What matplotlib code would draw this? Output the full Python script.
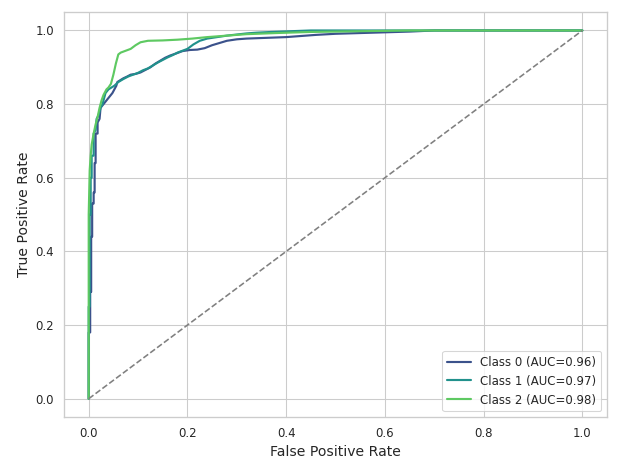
import matplotlib
matplotlib.use("Agg")
import matplotlib.pyplot as plt
import seaborn as sns

sns.set_theme(style="whitegrid", context="notebook")

labels = ["Class 0", "Class 1", "Class 2"]
auc_values = [0.96, 0.97, 0.98]

fpr_0 = [0.0, 0.0, 0.003, 0.003, 0.005, 0.005, 0.007, 0.007, 0.01, 0.01, 0.012, 0.012,
         0.014, 0.014, 0.018, 0.018, 0.022, 0.024, 0.03, 0.036, 0.042, 0.048, 0.052,
         0.056, 0.058, 0.064, 0.07, 0.078, 0.085, 0.095, 0.105, 0.115, 0.125, 0.135,
         0.145, 0.155, 0.165, 0.178, 0.19, 0.205, 0.22, 0.235, 0.25, 0.265, 0.28, 0.30,
         0.32, 0.36, 0.40, 0.43, 0.46, 0.50, 0.55, 0.60, 0.65, 0.70, 1.0]
tpr_0 = [0.0, 0.18, 0.18, 0.29, 0.29, 0.44, 0.44, 0.53, 0.53, 0.56, 0.56, 0.64,
         0.64, 0.72, 0.72, 0.75, 0.76, 0.79, 0.80, 0.81, 0.82, 0.83, 0.84,
         0.85, 0.86, 0.865, 0.87, 0.875, 0.88, 0.882, 0.886, 0.893, 0.90, 0.91,
         0.918, 0.926, 0.932, 0.938, 0.944, 0.947, 0.948, 0.952, 0.96, 0.966, 0.972, 0.976,
         0.978, 0.98, 0.982, 0.985, 0.988, 0.991, 0.993, 0.995, 0.997, 1.0, 1.0]

fpr_1 = [0.0, 0.0, 0.002, 0.002, 0.004, 0.004, 0.006, 0.006, 0.01, 0.01, 0.014, 0.016,
         0.02, 0.024, 0.028, 0.034, 0.04, 0.046, 0.052, 0.06, 0.07, 0.08, 0.09, 0.10,
         0.11, 0.12, 0.13, 0.14, 0.15, 0.16, 0.17, 0.18, 0.19, 0.20, 0.212, 0.225, 0.24,
         0.26, 0.28, 0.30, 0.32, 0.34, 0.37, 0.41, 0.45, 1.0]
tpr_1 = [0.0, 0.25, 0.25, 0.50, 0.50, 0.60, 0.60, 0.66, 0.66, 0.72, 0.73, 0.76,
         0.77, 0.79, 0.80, 0.83, 0.84, 0.845, 0.85, 0.86, 0.868, 0.875, 0.88, 0.885,
         0.892, 0.897, 0.905, 0.913, 0.92, 0.927, 0.933, 0.94, 0.945, 0.95, 0.962, 0.972, 0.978,
         0.982, 0.986, 0.989, 0.992, 0.994, 0.996, 0.998, 1.0, 1.0]

fpr_2 = [0.0, 0.0, 0.002, 0.004, 0.006, 0.01, 0.014, 0.018, 0.022, 0.026, 0.03, 0.036,
         0.04, 0.045, 0.05, 0.055, 0.06, 0.065, 0.075, 0.085, 0.095, 0.105, 0.12, 0.15,
         0.18, 0.21, 0.24, 0.28, 0.32, 0.38, 0.45, 0.55, 0.65, 1.0]
tpr_2 = [0.0, 0.50, 0.62, 0.66, 0.69, 0.72, 0.745, 0.765, 0.79, 0.81, 0.825, 0.84,
         0.845, 0.855, 0.88, 0.91, 0.935, 0.94, 0.945, 0.95, 0.96, 0.968, 0.972, 0.973,
         0.975, 0.978, 0.982, 0.986, 0.99, 0.993, 0.996, 0.998, 1.0, 1.0]

curves = [(fpr_0, tpr_0), (fpr_1, tpr_1), (fpr_2, tpr_2)]
colors = sns.color_palette("viridis", 3)

fig = plt.figure(figsize=(8, 464 / 77.25), dpi=77.25)
ax = fig.add_axes([0.1036, 0.101, 0.8786, 0.873])

for (fpr, tpr), name, auc, c in zip(curves, labels, auc_values, colors):
    ax.plot(fpr, tpr, color=c, lw=2, label=f"{name} (AUC={auc:.2f})")

ax.plot([0, 1], [0, 1], linestyle="--", color="gray", lw=1.5)

ax.set_xlabel("False Positive Rate", fontsize=13)
ax.set_ylabel("True Positive Rate", fontsize=13)
ax.tick_params(labelsize=11)
ax.legend(loc="lower right", fontsize=11)

fig.savefig("out.png", dpi=77.25)
